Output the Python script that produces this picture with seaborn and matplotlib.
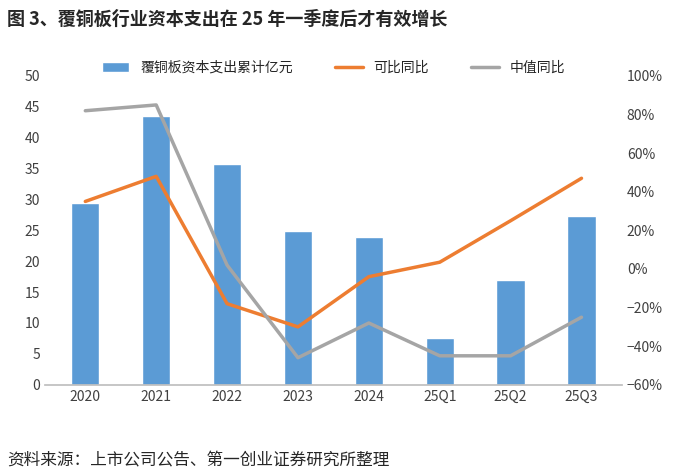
import matplotlib
matplotlib.use("Agg")
import matplotlib.pyplot as plt
import seaborn as sns
import pandas as pd
from matplotlib.ticker import PercentFormatter

sns.set_theme(style="white")
plt.rcParams['font.family'] = ['Noto Sans CJK SC', 'DejaVu Sans']

periods = ['2020', '2021', '2022', '2023', '2024', '25Q1', '25Q2', '25Q3']
capex = [29.5, 43.5, 35.7, 24.9, 24.0, 7.6, 17.0, 27.4]
comparable_yoy = [35, 48, -18, -30, -4, 3.5, 25, 47]
median_yoy = [82, 85, 2, -46, -28, -45, -45, -25]

df = pd.DataFrame({'period': periods, 'capex': capex,
                   'comp': comparable_yoy, 'median': median_yoy})

fig = plt.figure(figsize=(6.91, 4.75), dpi=100)
ax = fig.add_axes([0.065, 0.19, 0.835, 0.65])
sns.barplot(data=df, x='period', y='capex', color='#5b9bd5', width=0.4,
            saturation=1, ax=ax, label='覆铜板资本支出累计亿元')
ax.set_ylim(0, 50)
ax.set_yticks(range(0, 51, 5))
ax.set_xlabel('')
ax.set_ylabel('')
if ax.get_legend() is not None:
    ax.get_legend().remove()

ax2 = ax.twinx()
x = range(len(periods))
ax2.plot(x, df['comp'], color='#ed7d31', lw=2.5, label='可比同比')
ax2.plot(x, df['median'], color='#a5a5a5', lw=2.5, label='中值同比')
ax2.set_ylim(-60, 100)
ax2.set_yticks(range(-60, 101, 20))
ax2.yaxis.set_major_formatter(PercentFormatter(decimals=0))

for a in (ax, ax2):
    for s in a.spines.values():
        s.set_visible(False)
    a.tick_params(length=0, labelsize=10, colors='#404040')
ax.spines['bottom'].set_visible(True)
ax.spines['bottom'].set_color('#bfbfbf')

h1, l1 = ax.get_legend_handles_labels()
h2, l2 = ax2.get_legend_handles_labels()
ax2.legend(h1 + h2, l1 + l2, loc='upper center', bbox_to_anchor=(0.5, 1.09),
           ncol=3, frameon=False, fontsize=10, columnspacing=3)

fig.text(0.01, 0.96, '图 3、覆铜板行业资本支出在 25 年一季度后才有效增长',
         fontsize=13, fontweight='bold', va='center')
fig.text(0.01, 0.03, '资料来源：上市公司公告、第一创业证券研究所整理',
         fontsize=12, va='center')

fig.savefig('out.png', dpi=100)
